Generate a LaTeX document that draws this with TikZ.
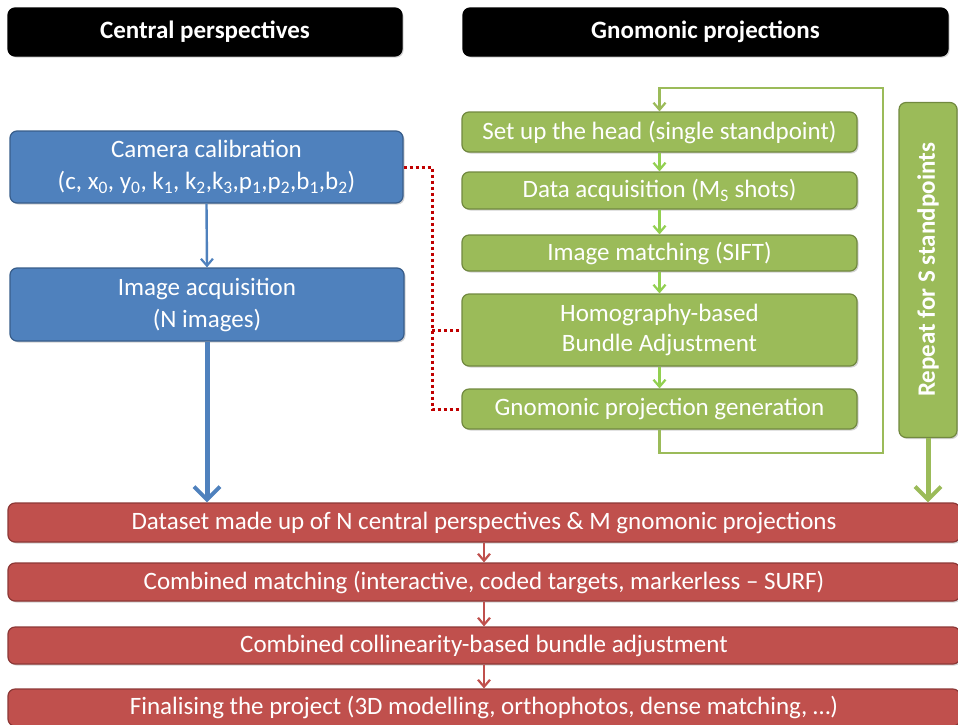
\documentclass[tikz,border=0pt]{standalone}
\usepackage{fontspec}
\setmainfont{Carlito}
\usetikzlibrary{arrows.meta,shadows}
\definecolor{blueF}{HTML}{4F81BD}
\definecolor{blueD}{HTML}{385D8A}
\definecolor{greenF}{HTML}{9BBB59}
\definecolor{greenD}{HTML}{71893F}
\definecolor{greenA}{HTML}{92D050}
\definecolor{redF}{HTML}{C0504D}
\definecolor{redD}{HTML}{8C3836}
\definecolor{redL}{HTML}{C00000}
\newcommand{\lo}[1]{\textsubscript{#1}}
\tikzset{
  basebox/.style={rectangle, rounded corners=7pt, line width=1.2pt, text=white, align=center, inner sep=0pt,
    drop shadow={shadow xshift=1.5pt, shadow yshift=-1.5pt, opacity=0.35}},
  hdr/.style={basebox, fill=black, draw=black, font=\fontsize{25}{30}\selectfont\bfseries, minimum height=48pt},
  bluebox/.style={basebox, fill=blueF, draw=blueD, font=\fontsize{25}{32}\selectfont},
  greenbox/.style={basebox, fill=greenF, draw=greenD, font=\fontsize{25}{30}\selectfont, minimum width=395pt},
  redbox/.style={basebox, fill=redF, draw=redD, font=\fontsize{25}{30}\selectfont, minimum width=952pt},
  thinarrow/.style={line width=2.4pt, -{Straight Barb[length=7pt,width=12pt,line width=2.2pt]}},
  thickarrow/.style={line width=5pt, -{Straight Barb[length=13pt,width=26pt,line width=4pt]}},
  dotline/.style={redL, line width=3pt, dash pattern=on 3pt off 3pt},
}
\begin{document}
\begin{tikzpicture}[x=1pt,y=-1pt]
\useasboundingbox (0,0) rectangle (958,724);
\clip (0,0) rectangle (958,724);
% headers
\node[hdr, minimum width=394pt] (h1) at (205,32) {Central perspectives};
\node[hdr, minimum width=485pt] (h2) at (705.5,32) {Gnomonic projections};
% blue
\node[bluebox, minimum width=393pt, minimum height=72pt] (cam) at (206.5,167)
  {Camera calibration\\(c, x\lo{0}, y\lo{0}, k\lo{1}, k\lo{2},k\lo{3},p\lo{1},p\lo{2},b\lo{1},b\lo{2})};
\node[bluebox, minimum width=394pt, minimum height=73pt] (img) at (207,304.5)
  {Image acquisition\\(N images)};
% green
\node[greenbox, minimum height=40pt] (set) at (659.5,132) {Set up the head (single standpoint)};
\node[greenbox, minimum height=37pt] (dat) at (659.5,190.5) {Data acquisition (M\lo{S} shots)};
\node[greenbox, minimum height=36pt] (mat) at (659.5,253) {Image matching (SIFT)};
\node[greenbox, minimum height=72pt] (hom) at (659.5,330) {Homography-based\\Bundle Adjustment};
\node[greenbox, minimum height=40pt] (gno) at (659.5,409) {Gnomonic projection generation};
\node[basebox, fill=greenF, draw=greenD, minimum width=58pt, minimum height=335pt] (rep) at (928,270) {};
\node[text=white, rotate=90, font=\fontsize{25}{30}\selectfont\bfseries] (reptxt) at (rep.center) {Repeat for S standpoints};
% red
\node[redbox, minimum height=39pt] (ds) at (484,522.5) {Dataset made up of N central perspectives \& M gnomonic projections};
\node[redbox, minimum height=38pt] (cm) at (484,582) {Combined matching (interactive, coded targets, markerless -- SURF)};
\node[redbox, minimum height=37pt] (cb) at (484,645.5) {Combined collinearity-based bundle adjustment};
\node[redbox, minimum height=37pt] (fp) at (484,707.5) {Finalising the project (3D modelling, orthophotos, dense matching, \dots)};
% blue arrows
\draw[thinarrow, blueF] (cam.south) -- (img.north);
\draw[thickarrow, blueF] (img.south) -- (img.south |- ds.north);
% green arrows
\draw[thinarrow, greenA] (set.south) -- (dat.north);
\draw[thinarrow, greenA] (dat.south) -- (mat.north);
\draw[thinarrow, greenA] (mat.south) -- (hom.north);
\draw[thinarrow, greenA] (hom.south) -- (gno.north);
\coordinate (lb) at (883,453);
\coordinate (lt) at (883,88);
\draw[greenF, line width=2.4pt, -{Straight Barb[length=7pt,width=12pt,line width=2.2pt]}]
  (gno.south) |- (lb) -- (lt) -| (set.north);
\draw[thickarrow, greenF] (rep.south) -- (rep.south |- ds.north);
% red arrows
\draw[thinarrow, redF] (ds.south) -- (cm.north);
\draw[thinarrow, redF] (cm.south) -- (cb.north);
\draw[thinarrow, redF] (cb.south) -- (fp.north);
% red dotted
\coordinate (j) at (432,167);
\draw[dotline] (cam.east) -- (j) |- (gno.west);
\draw[dotline] (j |- hom.west) -- (hom.west);
\end{tikzpicture}
\end{document}
